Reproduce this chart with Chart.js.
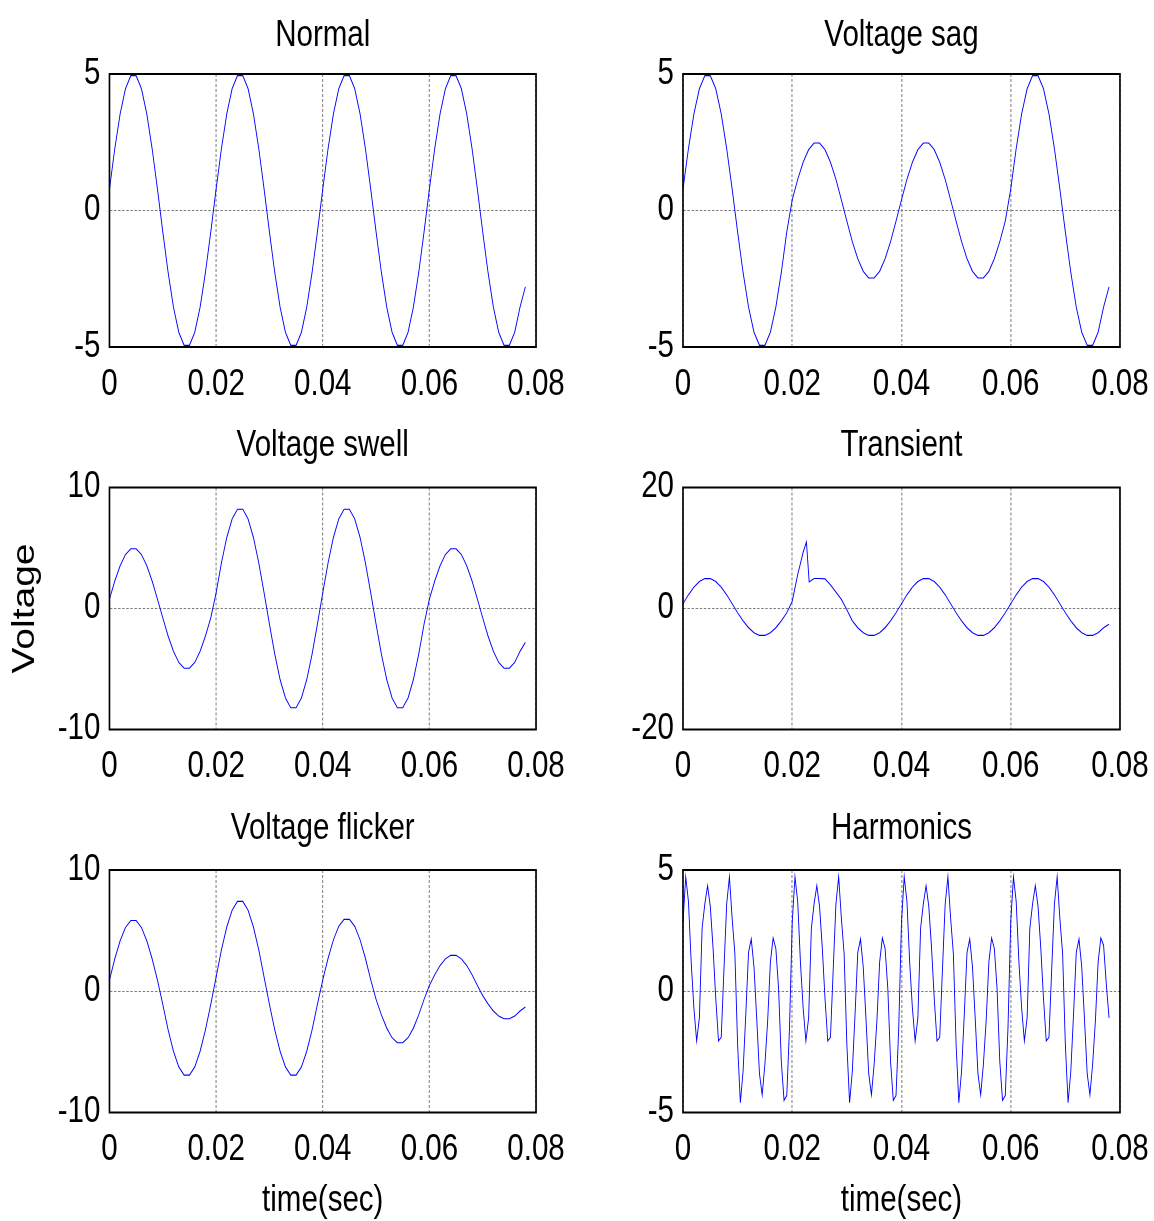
<!DOCTYPE html>
<html>
<head>
<meta charset="utf-8">
<script src="https://cdn.jsdelivr.net/npm/chart.js@4.4.1/dist/chart.umd.min.js"></script>
<style>
  html, body { margin: 0; padding: 0; background: #fff; overflow: hidden; width: 1154px; height: 1221px; }
  canvas { position: absolute; }
</style>
</head>
<body>
<canvas id="normal"></canvas>
<canvas id="sag"></canvas>
<canvas id="swell"></canvas>
<canvas id="transient"></canvas>
<canvas id="flicker"></canvas>
<canvas id="harmonics"></canvas>
<script>
// time base in milliseconds (axis shows seconds)
const tMs = [0,1,2,3,4,5,6,7,8,9,10,11,12,13,14,15,16,17,18,19,20,21,22,23,24,25,26,27,28,29,30,31,32,33,34,35,36,37,38,39,
  40,41,42,43,44,45,46,47,48,49,50,51,52,53,54,55,56,57,58,59,60,61,62,63,64,65,66,67,68,69,70,71,72,73,74,75,76,77,78];

const normalV = [0.78,2.27,3.54,4.46,4.94,4.94,4.46,3.54,2.27,0.78, -0.78,-2.27,-3.54,-4.46,-4.94,-4.94,-4.46,-3.54,-2.27,-0.78,
  0.78,2.27,3.54,4.46,4.94,4.94,4.46,3.54,2.27,0.78, -0.78,-2.27,-3.54,-4.46,-4.94,-4.94,-4.46,-3.54,-2.27,-0.78,
  0.78,2.27,3.54,4.46,4.94,4.94,4.46,3.54,2.27,0.78, -0.78,-2.27,-3.54,-4.46,-4.94,-4.94,-4.46,-3.54,-2.27,-0.78,
  0.78,2.27,3.54,4.46,4.94,4.94,4.46,3.54,2.27,0.78, -0.78,-2.27,-3.54,-4.46,-4.94,-4.94,-4.46,-3.54,-2.8];

const sagV = [0.78,2.27,3.54,4.46,4.94,4.94,4.46,3.54,2.27,0.78, -0.78,-2.27,-3.54,-4.46,-4.94,-4.94,-4.46,-3.54,-2.27,-0.78,
  0.39,1.14,1.77,2.23,2.47,2.47,2.23,1.77,1.14,0.39, -0.39,-1.14,-1.77,-2.23,-2.47,-2.47,-2.23,-1.77,-1.14,-0.39,
  0.39,1.14,1.77,2.23,2.47,2.47,2.23,1.77,1.14,0.39, -0.39,-1.14,-1.77,-2.23,-2.47,-2.47,-2.23,-1.77,-1.14,-0.39,
  0.78,2.27,3.54,4.46,4.94,4.94,4.46,3.54,2.27,0.78, -0.78,-2.27,-3.54,-4.46,-4.94,-4.94,-4.46,-3.54,-2.8];

const swellV = [0.78,2.27,3.54,4.46,4.94,4.94,4.46,3.54,2.27,0.78, -0.78,-2.27,-3.54,-4.46,-4.94,-4.94,-4.46,-3.54,-2.27,-0.78,
  1.29,3.77,5.87,7.40,8.20,8.20,7.40,5.87,3.77,1.29, -1.29,-3.77,-5.87,-7.40,-8.20,-8.20,-7.40,-5.87,-3.77,-1.29,
  1.29,3.77,5.87,7.40,8.20,8.20,7.40,5.87,3.77,1.29, -1.29,-3.77,-5.87,-7.40,-8.20,-8.20,-7.40,-5.87,-3.77,-1.29,
  0.78,2.27,3.54,4.46,4.94,4.94,4.46,3.54,2.27,0.78, -0.78,-2.27,-3.54,-4.46,-4.94,-4.94,-4.46,-3.54,-2.8];

const tTransientMs = [0,1,2,3,4,5,6,7,8,9,10,11,12,13,14,15,16,17,18,19,20,21,22,22.6,23.1,24,25,26,27,28,29,
  30,31,32,33,34,35,36,37,38,39,40,41,42,43,44,45,46,47,48,49,50,51,52,53,54,55,56,57,58,59,
  60,61,62,63,64,65,66,67,68,69,70,71,72,73,74,75,76,77,78];
const transientV = [0.78,2.27,3.54,4.46,4.94,4.94,4.46,3.54,2.27,0.78, -0.70,-2.04,-3.18,-4.01,-4.45,-4.45,-4.01,-3.18,-2.04,-0.70,
  1.2,5.6,9.3,11.0,4.4,4.96,4.96,4.9,3.9,2.7,1.5,
  -0.2,-2.04,-3.18,-4.01,-4.45,-4.45,-4.01,-3.18,-2.04,-0.70,
  0.78,2.27,3.54,4.46,4.94,4.94,4.46,3.54,2.27,0.78, -0.70,-2.04,-3.18,-4.01,-4.45,-4.45,-4.01,-3.18,-2.04,-0.70,
  0.78,2.27,3.54,4.46,4.94,4.94,4.46,3.54,2.27,0.78, -0.70,-2.04,-3.18,-4.01,-4.45,-4.45,-4.01,-3.18,-2.6];

const flickerV = [0.92,2.68,4.17,5.26,5.83,5.83,5.26,4.17,2.68,0.92, -1.09,-3.18,-4.95,-6.24,-6.92,-6.92,-6.24,-4.95,-3.18,-1.09,
  1.17,3.41,5.30,6.68,7.41,7.41,6.68,5.30,3.41,1.17, -1.09,-3.18,-4.95,-6.24,-6.92,-6.92,-6.24,-4.95,-3.18,-1.09,
  0.94,2.72,4.24,5.35,5.93,5.93,5.35,4.24,2.72,0.94, -0.67,-1.95,-3.04,-3.83,-4.25,-4.25,-3.83,-3.04,-1.95,-0.67,
  0.47,1.36,2.12,2.67,2.96,2.96,2.67,2.12,1.36,0.47, -0.36,-1.04,-1.63,-2.05,-2.27,-2.27,-2.05,-1.63,-1.3];

// harmonics sampled every 0.5 ms
const tHarmMs = [0,0.5,1,1.5,2,2.5,3,3.5,4,4.5,5,5.5,6,6.5,7,7.5,8,8.5,9,9.5,10,10.5,11,11.5,12,12.5,13,13.5,14,14.5,15,15.5,16,16.5,17,17.5,18,18.5,19,19.5,
  20,20.5,21,21.5,22,22.5,23,23.5,24,24.5,25,25.5,26,26.5,27,27.5,28,28.5,29,29.5,30,30.5,31,31.5,32,32.5,33,33.5,34,34.5,35,35.5,36,36.5,37,37.5,38,38.5,39,39.5,
  40,40.5,41,41.5,42,42.5,43,43.5,44,44.5,45,45.5,46,46.5,47,47.5,48,48.5,49,49.5,50,50.5,51,51.5,52,52.5,53,53.5,54,54.5,55,55.5,56,56.5,57,57.5,58,58.5,59,59.5,
  60,60.5,61,61.5,62,62.5,63,63.5,64,64.5,65,65.5,66,66.5,67,67.5,68,68.5,69,69.5,70,70.5,71,71.5,72,72.5,73,73.5,74,74.5,75,75.5,76,76.5,77,77.5,78];
const harmonicsV = [
  2.85,4.72,3.7,1.2,-0.7,-2.05,-1.1,2.6,3.6,4.35, 3.5,1.8,-0.3,-2.05,-1.9,0.9,3.6,4.72,3.0,1.55,
  -2.2,-4.6,-3.3,-0.95,1.6,2.15,1.0,-1.13,-3.4,-4.27, -3.0,-1.23,1.2,2.2,1.76,0.1,-2.9,-4.5,-4.3,-1.5,
  2.85,4.72,3.7,1.2,-0.7,-2.05,-1.1,2.6,3.6,4.35, 3.5,1.8,-0.3,-2.05,-1.9,0.9,3.6,4.72,3.0,1.55,
  -2.2,-4.6,-3.3,-0.95,1.6,2.15,1.0,-1.13,-3.4,-4.27, -3.0,-1.23,1.2,2.2,1.76,0.1,-2.9,-4.5,-4.3,-1.5,
  2.85,4.72,3.7,1.2,-0.7,-2.05,-1.1,2.6,3.6,4.35, 3.5,1.8,-0.3,-2.05,-1.9,0.9,3.6,4.72,3.0,1.55,
  -2.2,-4.6,-3.3,-0.95,1.6,2.15,1.0,-1.13,-3.4,-4.27, -3.0,-1.23,1.2,2.2,1.76,0.1,-2.9,-4.5,-4.3,-1.5,
  2.85,4.72,3.7,1.2,-0.7,-2.05,-1.1,2.6,3.6,4.35, 3.5,1.8,-0.3,-2.05,-1.9,0.9,3.6,4.72,3.0,1.55,
  -2.2,-4.6,-3.3,-0.95,1.6,2.15,1.0,-1.13,-3.4,-4.27, -3.0,-1.23,1.2,2.2,1.9,0.3,-1.1];

const xTicksMs = [0, 20, 40, 60, 80];

const FONT = '"Liberation Sans", Arial, sans-serif';
const SX = 0.82; // the figure is squeezed horizontally, text included

// draw everything with a horizontal squeeze so the text comes out narrow
const squeeze = {
  id: "squeeze",
  beforeDraw(chart) { chart.ctx.save(); chart.ctx.scale(SX, 1); },
  afterDraw(chart) { chart.ctx.restore(); },
};

// closed axes box like MATLAB's "box on"
const boxFrame = {
  id: "boxFrame",
  afterDatasetsDraw(chart) {
    const { ctx, chartArea: a } = chart;
    ctx.save();
    ctx.strokeStyle = "#000";
    ctx.lineWidth = 2;
    ctx.strokeRect(a.left, a.top, a.right - a.left, a.bottom - a.top);
    ctx.restore();
  },
};

// sizes in unsqueezed layout units
const cols = {
  left: { x: 0, w: 800, yw: 133.5, padR: 146.3 },
  right: { x: 580, w: 730, yw: 125.6, padR: 71.5 },
};
const rows = [
  { y: 0, h: 420, tTop: 14.4, tBot: 16.4, xh: 73 },
  { y: 420, h: 380, tTop: 4.4, tBot: 19.9, xh: 70.5 },
  { y: 800, h: 425, tTop: 7.4, tBot: 19.4, xh: 112.5 },
];

function makePlot(id, col, row, title, times, values, yMax, yLabel, xLabel) {
  const cv = document.getElementById(id);
  cv.width = col.w;
  cv.height = row.h;
  cv.style.left = col.x + "px";
  cv.style.top = row.y + "px";

  new Chart(cv, {
    type: "line",
    data: {
      datasets: [{
        data: times.map((t, i) => ({ x: t, y: values[i] })),
        borderColor: "#0000ff",
        borderWidth: 1.1,
        pointRadius: 0,
        tension: 0,
        fill: false,
      }],
    },
    options: {
      responsive: false,
      animation: false,
      events: [],
      layout: { padding: { left: 0, right: col.padR, top: 0, bottom: 0 } },
      plugins: {
        legend: { display: false },
        tooltip: { enabled: false },
        title: {
          display: true, text: title, color: "#000", fullSize: false,
          font: { family: FONT, size: 36, weight: "normal" },
          padding: { top: row.tTop, bottom: row.tBot },
        },
      },
      scales: {
        x: {
          type: "linear", min: 0, max: 80,
          afterBuildTicks: (s) => { s.ticks = xTicksMs.map((v) => ({ value: v })); },
          afterFit: (s) => { s.height = row.xh; },
          ticks: {
            color: "#000", padding: 16, maxRotation: 0, autoSkip: false,
            font: { family: FONT, size: 36 },
            callback: (v) => (v === 0 ? "0" : (v / 1000).toFixed(2)),
          },
          grid: { color: "#6e6e6e", lineWidth: 1, drawTicks: false },
          border: { display: false, dash: [3, 2] },
          title: {
            display: !!xLabel, text: xLabel || "", color: "#000",
            font: { family: FONT, size: 36 }, padding: { top: 0, bottom: 2.4 },
          },
        },
        y: {
          min: -yMax, max: yMax,
          afterBuildTicks: (s) => { s.ticks = [-yMax, 0, yMax].map((v) => ({ value: v })); },
          afterFit: (s) => { s.width = col.yw; },
          ticks: { color: "#000", padding: 11, font: { family: FONT, size: 36 } },
          grid: { color: "#6e6e6e", lineWidth: 1, drawTicks: false },
          border: { display: false, dash: [3, 2] },
          title: {
            display: !!yLabel, text: yLabel || "", color: "#000",
            font: { family: FONT, size: 39 }, padding: { top: 7.1, bottom: 0 },
          },
        },
      },
    },
    plugins: [squeeze, boxFrame],
  });
}

makePlot("normal", cols.left, rows[0], "Normal", tMs, normalV, 5);
makePlot("sag", cols.right, rows[0], "Voltage sag", tMs, sagV, 5);
makePlot("swell", cols.left, rows[1], "Voltage swell", tMs, swellV, 10, "Voltage");
makePlot("transient", cols.right, rows[1], "Transient", tTransientMs, transientV, 20);
makePlot("flicker", cols.left, rows[2], "Voltage flicker", tMs, flickerV, 10, null, "time(sec)");
makePlot("harmonics", cols.right, rows[2], "Harmonics", tHarmMs, harmonicsV, 5, null, "time(sec)");
</script>
</body>
</html>
